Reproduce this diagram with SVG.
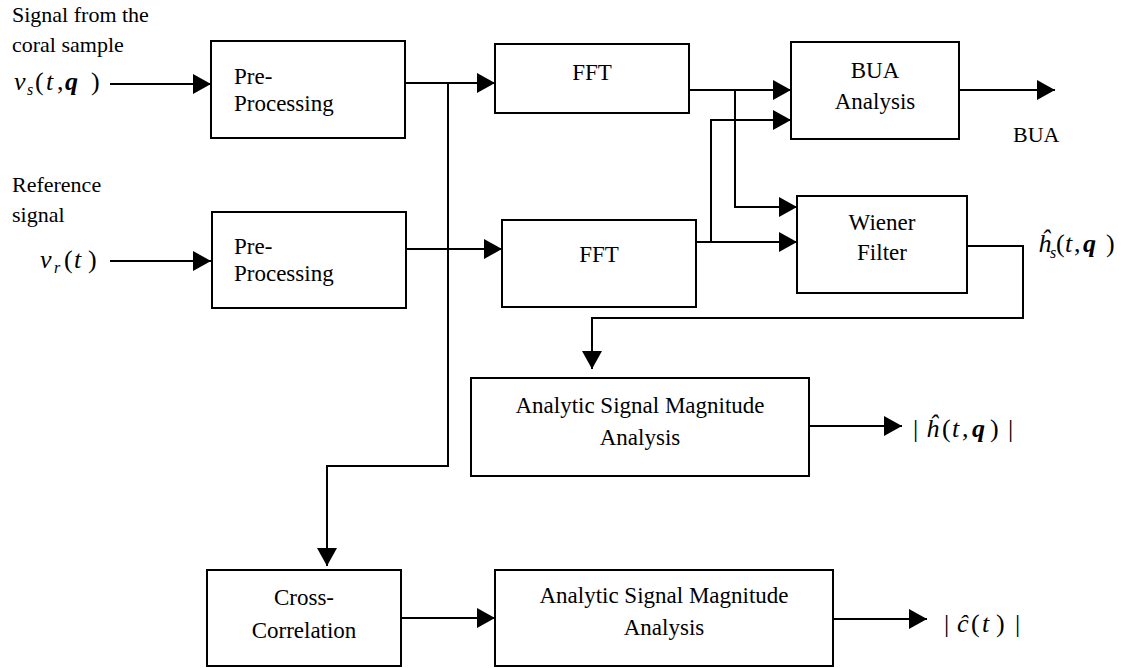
<svg xmlns="http://www.w3.org/2000/svg" width="1140" height="668" viewBox="0 0 1140 668" font-family="'Liberation Serif', 'Times New Roman', 'DejaVu Serif', serif">
  <style>
    .box { fill: #fff; stroke: #000; stroke-width: 2; }
    .wire { fill: none; stroke: #000; stroke-width: 2; marker-end: url(#arrow); }
    .t { font-family: 'Liberation Serif', 'Times New Roman', 'DejaVu Serif', serif; fill: #000; }
    .lbl { font-size: 23px; }
    .mid { text-anchor: middle; }
    .side { font-size: 22px; }
    .m { font-size: 26px; font-style: italic; }
    .up { font-style: normal; }
    .sub { font-size: 16px; font-style: italic; }
    .bq { font-weight: bold; font-style: italic; }
  </style>
  <defs>
    <marker id="arrow" markerUnits="userSpaceOnUse" markerWidth="18" markerHeight="20" refX="18" refY="10" orient="auto">
      <path d="M0,0 L18,10 L0,20 Z" fill="#000"/>
    </marker>
  </defs>

  <rect width="1140" height="668" fill="#fff"/>

  <!-- input / output labels -->
  <g id="labels">
    <text class="t side" x="12" y="22">Signal from the</text>
    <text class="t side" x="12" y="52">coral sample</text>
    <g>
      <text class="t m" x="14" y="90">v</text>
      <text class="t sub" x="27" y="95">s</text>
      <text class="t m up" x="35" y="90">(</text>
      <text class="t m" x="46" y="90">t</text>
      <text class="t m up" x="57" y="90">,</text>
      <text class="t m bq" x="65" y="90">q</text>
      <text class="t m up" x="91" y="90">)</text>
    </g>

    <text class="t side" x="12" y="192">Reference</text>
    <text class="t side" x="12" y="222">signal</text>
    <g>
      <text class="t m" x="40" y="268">v</text>
      <text class="t sub" x="54" y="273">r</text>
      <text class="t m up" x="64" y="268">(</text>
      <text class="t m" x="74" y="268">t</text>
      <text class="t m up" x="88" y="268">)</text>
    </g>

    <text class="t side" x="1013" y="142">BUA</text>

    <g>
      <text class="t m" x="1038" y="252">ĥ</text>
      <text class="t sub" x="1050" y="258">s</text>
      <text class="t m up" x="1056" y="252">(</text>
      <text class="t m" x="1065" y="252">t</text>
      <text class="t m up" x="1074" y="252">,</text>
      <text class="t m bq" x="1083" y="252">q</text>
      <text class="t m up" x="1106" y="252">)</text>
    </g>

    <g>
      <text class="t m up" x="913" y="437">|</text>
      <text class="t m" x="926" y="437">ĥ</text>
      <text class="t m up" x="942" y="437">(</text>
      <text class="t m" x="952" y="437">t</text>
      <text class="t m up" x="962" y="437">,</text>
      <text class="t m bq" x="972" y="437">q</text>
      <text class="t m up" x="990" y="437">)</text>
      <text class="t m up" x="1008" y="437">|</text>
    </g>

    <g>
      <text class="t m up" x="944" y="632">|</text>
      <text class="t m" x="957" y="632">ĉ</text>
      <text class="t m up" x="971" y="632">(</text>
      <text class="t m" x="982" y="632">t</text>
      <text class="t m up" x="996" y="632">)</text>
      <text class="t m up" x="1015" y="632">|</text>
    </g>
  </g>

  <!-- signal paths -->
  <g id="connectors">
    <path class="wire" d="M110,84 H211"/>
    <path class="wire" d="M110,261 H211"/>
    <path class="wire" d="M405,83 H495"/>
    <path class="wire" d="M448,83 V466 H327 V566"/>
    <path class="wire" d="M405,249 H502"/>
    <path class="wire" d="M689,90 H791"/>
    <path class="wire" d="M735,90 V207 H797"/>
    <path class="wire" d="M696,242 H797"/>
    <path class="wire" d="M711,242 V120 H791"/>
    <path class="wire" d="M959,90 H1055"/>
    <path class="wire" d="M967,246 H1023 V318 H592 V369"/>
    <path class="wire" d="M809,426 H902"/>
    <path class="wire" d="M401,618 H495"/>
    <path class="wire" d="M833,619 H927"/>
  </g>

  <g id="preproc-sample">
    <rect class="box" x="211" y="41" width="194" height="97"/>
    <text class="t lbl" x="234" y="84">Pre-</text>
    <text class="t lbl" x="234" y="111">Processing</text>
  </g>

  <g id="preproc-reference">
    <rect class="box" x="212" y="212" width="194" height="96"/>
    <text class="t lbl" x="234" y="254">Pre-</text>
    <text class="t lbl" x="234" y="281">Processing</text>
  </g>

  <g id="fft-sample">
    <rect class="box" x="495" y="44" width="194" height="69"/>
    <text class="t lbl mid" x="592" y="80">FFT</text>
  </g>

  <g id="fft-reference">
    <rect class="box" x="502" y="220" width="194" height="87"/>
    <text class="t lbl mid" x="599" y="262">FFT</text>
  </g>

  <g id="bua-analysis">
    <rect class="box" x="791" y="42" width="168" height="97"/>
    <text class="t lbl mid" x="875" y="78">BUA</text>
    <text class="t lbl mid" x="875" y="109">Analysis</text>
  </g>

  <g id="wiener-filter">
    <rect class="box" x="797" y="196" width="170" height="97"/>
    <text class="t lbl mid" x="882" y="230">Wiener</text>
    <text class="t lbl mid" x="882" y="260">Filter</text>
  </g>

  <g id="magnitude-impulse">
    <rect class="box" x="471" y="378" width="338" height="98"/>
    <text class="t lbl mid" x="640" y="413">Analytic Signal Magnitude</text>
    <text class="t lbl mid" x="640" y="445">Analysis</text>
  </g>

  <g id="cross-correlation">
    <rect class="box" x="207" y="570" width="194" height="96"/>
    <text class="t lbl mid" x="304" y="605">Cross-</text>
    <text class="t lbl mid" x="304" y="638">Correlation</text>
  </g>

  <g id="magnitude-correlation">
    <rect class="box" x="495" y="570" width="338" height="96"/>
    <text class="t lbl mid" x="664" y="603">Analytic Signal Magnitude</text>
    <text class="t lbl mid" x="664" y="635">Analysis</text>
  </g>
</svg>
